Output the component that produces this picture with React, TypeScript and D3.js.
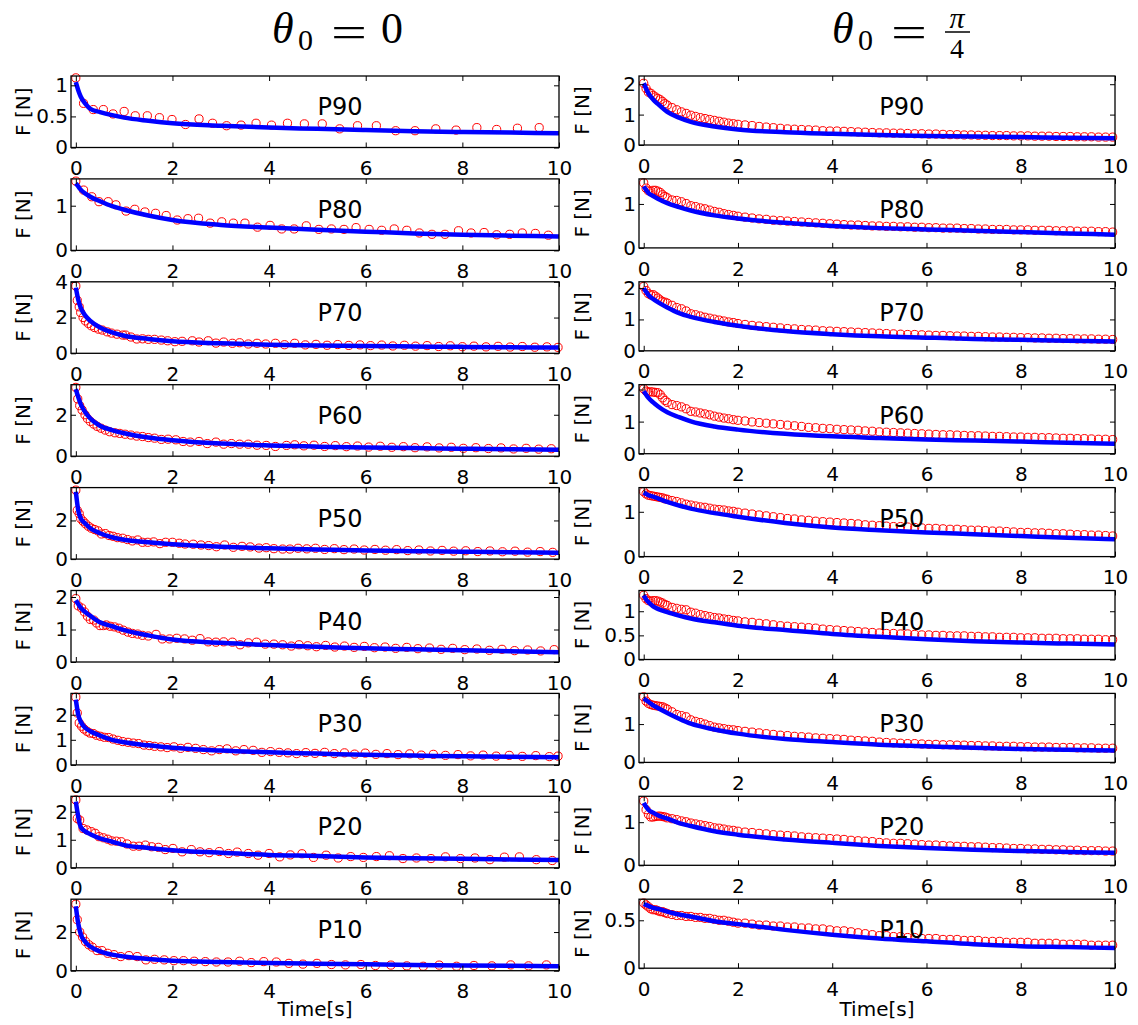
import React, { useEffect, useRef } from 'react';
import * as d3 from 'd3';

const xTicks = [0, 2, 4, 6, 8, 10];
const panelNames = ['P90', 'P80', 'P70', 'P60', 'P50', 'P40', 'P30', 'P20', 'P10'];

// y range and ticks of every panel, top to bottom
const yMaxL = [1.15, 1.6, 4, 3.45, 3.7, 2.2, 2.85, 2.55, 3.7];
const yTicksL = [[0, 0.5, 1], [0, 1], [0, 2, 4], [0, 2], [0, 2], [0, 1, 2], [0, 1, 2], [0, 1, 2], [0, 2]];
const yMaxR = [2.27, 1.57, 2.2, 2.15, 1.54, 1.43, 1.8, 1.6, 0.72];
const yTicksR = [[0, 1, 2], [0, 1], [0, 1, 2], [0, 1, 2], [0, 1], [0, 0.5, 1], [0, 1], [0, 1], [0, 0.5]];

// model curve (blue), sampled at these times
const tModel = [0, 0.05, 0.1, 0.2, 0.3, 0.5, 0.75, 1, 1.5, 2, 3, 4, 5, 6, 7, 8, 9, 10];

// theta0 = 0
const modelL90 = [1.05, 0.92, 0.82, 0.7, 0.62, 0.57, 0.52, 0.48, 0.43, 0.39, 0.35, 0.32, 0.3, 0.28, 0.26, 0.25, 0.24, 0.23];
const modelL80 = [1.5, 1.43, 1.36, 1.27, 1.2, 1.1, 0.99, 0.91, 0.78, 0.68, 0.57, 0.51, 0.46, 0.42, 0.38, 0.35, 0.33, 0.31];
const modelL70 = [3.67, 3.0, 2.56, 2.09, 1.81, 1.44, 1.17, 0.98, 0.8, 0.67, 0.56, 0.48, 0.44, 0.41, 0.38, 0.36, 0.34, 0.32];
const modelL60 = [3.24, 2.85, 2.52, 2.11, 1.82, 1.47, 1.26, 1.11, 0.9, 0.77, 0.61, 0.52, 0.46, 0.42, 0.39, 0.36, 0.33, 0.31];
const modelL50 = [3.48, 2.52, 2.12, 1.83, 1.6, 1.34, 1.13, 1.0, 0.87, 0.77, 0.64, 0.56, 0.5, 0.45, 0.41, 0.38, 0.35, 0.33];
const modelL40 = [1.9, 1.78, 1.67, 1.53, 1.42, 1.22, 1.1, 0.98, 0.82, 0.69, 0.59, 0.52, 0.47, 0.42, 0.39, 0.36, 0.33, 0.3];
const modelL30 = [2.6, 2.0, 1.73, 1.47, 1.34, 1.17, 1.0, 0.9, 0.78, 0.68, 0.57, 0.5, 0.45, 0.4, 0.37, 0.34, 0.32, 0.3];
const modelL20 = [2.36, 1.82, 1.46, 1.29, 1.2, 1.05, 0.93, 0.81, 0.71, 0.63, 0.54, 0.46, 0.42, 0.37, 0.34, 0.32, 0.3, 0.28];
const modelL10 = [3.34, 2.43, 1.91, 1.48, 1.25, 1.0, 0.83, 0.73, 0.61, 0.52, 0.45, 0.4, 0.36, 0.33, 0.3, 0.27, 0.25, 0.23];

// measurements (red circles) as [time, force]
const expL90 = [[0, 1.12], [0.16, 0.71], [0.36, 0.61], [0.57, 0.61], [0.77, 0.54], [1.0, 0.58], [1.23, 0.51], [1.48, 0.51], [1.73, 0.48], [1.99, 0.45], [2.27, 0.37], [2.55, 0.46], [2.83, 0.39], [3.12, 0.35], [3.42, 0.36], [3.73, 0.39], [4.05, 0.36], [4.38, 0.39], [4.73, 0.38], [5.1, 0.38], [5.46, 0.3], [5.83, 0.35], [6.22, 0.35], [6.62, 0.27], [7.02, 0.27], [7.45, 0.3], [7.87, 0.28], [8.3, 0.32], [8.71, 0.29], [9.14, 0.31], [9.59, 0.32]];
const expL80 = [[0, 1.55], [0.16, 1.35], [0.33, 1.2], [0.48, 1.09], [0.67, 1.09], [0.83, 1.02], [1.04, 0.88], [1.22, 0.92], [1.43, 0.86], [1.65, 0.83], [1.87, 0.78], [2.1, 0.68], [2.32, 0.71], [2.54, 0.72], [2.78, 0.61], [3.02, 0.64], [3.26, 0.61], [3.5, 0.61], [3.76, 0.52], [4.02, 0.56], [4.26, 0.48], [4.52, 0.48], [4.77, 0.55], [5.03, 0.47], [5.29, 0.48], [5.55, 0.47], [5.8, 0.51], [6.07, 0.47], [6.33, 0.45], [6.59, 0.48], [6.85, 0.45], [7.11, 0.39], [7.37, 0.36], [7.64, 0.36], [7.92, 0.44], [8.18, 0.39], [8.45, 0.4], [8.71, 0.35], [8.98, 0.36], [9.24, 0.39], [9.51, 0.38], [9.78, 0.34]];
const expL70 = [[0, 3.76], [0.03, 2.96], [0.07, 2.6], [0.1, 2.28], [0.15, 2.0], [0.2, 1.81], [0.26, 1.67], [0.32, 1.54], [0.39, 1.44], [0.47, 1.35], [0.55, 1.3], [0.65, 1.2], [0.74, 1.13], [0.85, 1.07], [0.97, 1.02], [1.03, 1.02], [1.14, 0.91], [1.26, 0.8], [1.38, 0.81], [1.5, 0.78], [1.63, 0.78], [1.77, 0.74], [1.9, 0.7], [2.05, 0.65], [2.2, 0.67], [2.41, 0.7], [2.55, 0.63], [2.74, 0.7], [2.9, 0.57], [3.06, 0.63], [3.24, 0.56], [3.39, 0.59], [3.57, 0.52], [3.75, 0.56], [3.93, 0.52], [4.13, 0.56], [4.32, 0.48], [4.53, 0.56], [4.75, 0.47], [4.97, 0.5], [5.2, 0.45], [5.42, 0.49], [5.65, 0.44], [5.88, 0.47], [6.1, 0.43], [6.33, 0.46], [6.56, 0.41], [6.8, 0.45], [7.03, 0.4], [7.27, 0.43], [7.51, 0.38], [7.75, 0.42], [8.0, 0.37], [8.24, 0.4], [8.49, 0.36], [8.74, 0.39], [8.99, 0.35], [9.24, 0.38], [9.5, 0.34], [9.75, 0.36], [9.98, 0.33]];
const expL60 = [[0, 3.32], [0.04, 2.76], [0.08, 2.44], [0.13, 2.23], [0.19, 2.0], [0.24, 1.82], [0.3, 1.68], [0.37, 1.55], [0.44, 1.44], [0.52, 1.35], [0.61, 1.26], [0.7, 1.18], [0.81, 1.13], [0.91, 1.1], [1.02, 1.06], [1.14, 1.02], [1.26, 0.97], [1.38, 0.95], [1.5, 0.9], [1.63, 0.87], [1.77, 0.81], [1.91, 0.82], [2.07, 0.79], [2.22, 0.71], [2.37, 0.68], [2.55, 0.71], [2.72, 0.61], [2.9, 0.68], [3.06, 0.58], [3.22, 0.61], [3.39, 0.58], [3.57, 0.58], [3.75, 0.53], [3.94, 0.52], [4.13, 0.47], [4.36, 0.52], [4.53, 0.55], [4.72, 0.5], [4.93, 0.53], [5.15, 0.47], [5.37, 0.51], [5.6, 0.46], [5.83, 0.49], [6.06, 0.44], [6.3, 0.48], [6.54, 0.43], [6.78, 0.46], [7.02, 0.41], [7.27, 0.45], [7.52, 0.4], [7.77, 0.43], [8.02, 0.38], [8.28, 0.41], [8.54, 0.37], [8.8, 0.4], [9.06, 0.35], [9.32, 0.38], [9.58, 0.34], [9.84, 0.36]];
const expL50 = [[0, 3.57], [0.03, 2.52], [0.07, 2.35], [0.1, 2.1], [0.15, 1.96], [0.2, 1.83], [0.26, 1.7], [0.32, 1.6], [0.39, 1.53], [0.46, 1.46], [0.53, 1.3], [0.61, 1.32], [0.69, 1.22], [0.77, 1.18], [0.86, 1.11], [0.97, 1.08], [1.07, 1.01], [1.17, 0.94], [1.28, 0.99], [1.38, 0.87], [1.49, 0.87], [1.61, 0.89], [1.74, 0.8], [1.86, 0.87], [2.0, 0.87], [2.14, 0.82], [2.26, 0.78], [2.43, 0.77], [2.59, 0.73], [2.75, 0.7], [2.91, 0.64], [3.08, 0.73], [3.26, 0.61], [3.44, 0.66], [3.61, 0.63], [3.79, 0.57], [3.94, 0.59], [4.1, 0.54], [4.28, 0.52], [4.43, 0.52], [4.6, 0.56], [4.78, 0.53], [4.96, 0.56], [5.15, 0.5], [5.35, 0.54], [5.55, 0.49], [5.76, 0.52], [5.97, 0.47], [6.19, 0.5], [6.41, 0.46], [6.64, 0.49], [6.87, 0.44], [7.1, 0.47], [7.34, 0.42], [7.58, 0.45], [7.82, 0.41], [8.07, 0.43], [8.32, 0.39], [8.57, 0.42], [8.83, 0.38], [9.09, 0.41], [9.35, 0.36], [9.61, 0.39], [9.87, 0.35]];
const expL40 = [[0, 1.95], [0.05, 1.73], [0.12, 1.66], [0.18, 1.54], [0.24, 1.41], [0.3, 1.31], [0.37, 1.29], [0.43, 1.2], [0.5, 1.12], [0.57, 1.12], [0.63, 1.14], [0.71, 1.1], [0.8, 1.08], [0.89, 1.04], [0.98, 0.98], [1.08, 0.92], [1.17, 0.88], [1.28, 0.86], [1.38, 0.82], [1.5, 0.8], [1.66, 0.85], [1.79, 0.71], [1.94, 0.71], [2.09, 0.73], [2.25, 0.71], [2.41, 0.67], [2.57, 0.72], [2.74, 0.62], [2.9, 0.61], [3.06, 0.62], [3.24, 0.61], [3.4, 0.53], [3.57, 0.59], [3.74, 0.61], [3.92, 0.55], [4.1, 0.55], [4.28, 0.53], [4.46, 0.49], [4.62, 0.53], [4.8, 0.5], [4.98, 0.47], [5.17, 0.51], [5.36, 0.46], [5.56, 0.49], [5.76, 0.45], [5.97, 0.48], [6.18, 0.44], [6.4, 0.46], [6.62, 0.42], [6.85, 0.45], [7.08, 0.41], [7.32, 0.43], [7.56, 0.39], [7.8, 0.42], [8.05, 0.38], [8.3, 0.4], [8.56, 0.36], [8.82, 0.39], [9.08, 0.35], [9.35, 0.37], [9.62, 0.34], [9.9, 0.38]];
const expL30 = [[0, 2.7], [0.03, 2.07], [0.07, 1.67], [0.12, 1.54], [0.17, 1.43], [0.23, 1.34], [0.29, 1.27], [0.36, 1.25], [0.43, 1.18], [0.51, 1.14], [0.59, 1.1], [0.68, 1.09], [0.77, 1.03], [0.87, 0.98], [0.97, 0.93], [1.08, 0.9], [1.19, 0.87], [1.3, 0.85], [1.41, 0.79], [1.52, 0.77], [1.63, 0.74], [1.76, 0.72], [1.89, 0.69], [2.03, 0.72], [2.17, 0.66], [2.32, 0.7], [2.48, 0.66], [2.64, 0.61], [2.81, 0.56], [2.97, 0.61], [3.13, 0.64], [3.31, 0.56], [3.48, 0.61], [3.67, 0.58], [3.85, 0.5], [4.03, 0.53], [4.21, 0.5], [4.39, 0.48], [4.57, 0.45], [4.76, 0.49], [4.95, 0.46], [5.15, 0.5], [5.35, 0.45], [5.56, 0.48], [5.77, 0.43], [5.99, 0.47], [6.21, 0.42], [6.44, 0.45], [6.67, 0.41], [6.91, 0.44], [7.15, 0.39], [7.4, 0.42], [7.65, 0.38], [7.91, 0.41], [8.17, 0.36], [8.43, 0.39], [8.7, 0.35], [8.97, 0.38], [9.24, 0.34], [9.52, 0.37], [9.8, 0.33], [9.98, 0.35]];
const expL20 = [[0, 2.42], [0.03, 1.76], [0.08, 1.7], [0.15, 1.4], [0.23, 1.35], [0.32, 1.29], [0.4, 1.23], [0.48, 1.11], [0.57, 1.07], [0.66, 1.02], [0.74, 0.96], [0.84, 0.95], [0.94, 0.93], [1.06, 0.85], [1.19, 0.77], [1.31, 0.77], [1.44, 0.81], [1.57, 0.75], [1.71, 0.73], [1.85, 0.65], [2.01, 0.69], [2.2, 0.57], [2.39, 0.65], [2.57, 0.57], [2.76, 0.54], [2.97, 0.58], [3.16, 0.51], [3.34, 0.56], [3.57, 0.51], [3.77, 0.45], [4.0, 0.51], [4.22, 0.39], [4.44, 0.46], [4.68, 0.5], [4.92, 0.37], [5.18, 0.45], [5.43, 0.35], [5.69, 0.4], [5.95, 0.37], [6.22, 0.4], [6.49, 0.43], [6.77, 0.33], [7.05, 0.35], [7.35, 0.33], [7.65, 0.39], [7.96, 0.33], [8.26, 0.35], [8.57, 0.29], [8.87, 0.38], [9.18, 0.39], [9.53, 0.29], [9.86, 0.26]];
const expL10 = [[0, 3.44], [0.03, 2.64], [0.08, 2.0], [0.14, 1.74], [0.2, 1.51], [0.27, 1.34], [0.34, 1.22], [0.44, 1.04], [0.54, 1.04], [0.66, 0.9], [0.79, 0.83], [0.93, 0.73], [1.1, 0.78], [1.27, 0.73], [1.45, 0.56], [1.63, 0.59], [1.83, 0.56], [2.03, 0.52], [2.23, 0.52], [2.45, 0.49], [2.68, 0.47], [2.91, 0.45], [3.15, 0.45], [3.39, 0.49], [3.63, 0.42], [3.89, 0.47], [4.15, 0.45], [4.41, 0.38], [4.7, 0.34], [4.99, 0.38], [5.29, 0.32], [5.58, 0.3], [5.9, 0.32], [6.2, 0.27], [6.52, 0.29], [6.85, 0.25], [7.19, 0.23], [7.52, 0.29], [7.88, 0.23], [8.24, 0.27], [8.61, 0.25], [9.0, 0.3], [9.37, 0.25], [9.74, 0.3]];

// theta0 = pi/4
const modelR90 = [2.03, 1.86, 1.7, 1.5, 1.35, 1.09, 0.9, 0.76, 0.61, 0.51, 0.42, 0.37, 0.33, 0.3, 0.28, 0.26, 0.24, 0.22];
const modelR80 = [1.4, 1.32, 1.25, 1.18, 1.12, 1.02, 0.93, 0.85, 0.74, 0.67, 0.57, 0.5, 0.45, 0.42, 0.39, 0.36, 0.33, 0.3];
const modelR70 = [2.0, 1.88, 1.78, 1.65, 1.55, 1.38, 1.2, 1.08, 0.92, 0.8, 0.63, 0.53, 0.46, 0.42, 0.38, 0.35, 0.32, 0.3];
const modelR60 = [1.95, 1.84, 1.74, 1.6, 1.48, 1.29, 1.14, 1.01, 0.85, 0.75, 0.62, 0.54, 0.49, 0.44, 0.41, 0.38, 0.34, 0.31];
const modelR50 = [1.43, 1.4, 1.37, 1.34, 1.3, 1.22, 1.14, 1.07, 0.97, 0.89, 0.75, 0.65, 0.59, 0.54, 0.5, 0.46, 0.42, 0.39];
const modelR40 = [1.33, 1.25, 1.19, 1.1, 1.05, 0.98, 0.91, 0.85, 0.77, 0.7, 0.61, 0.53, 0.47, 0.42, 0.38, 0.35, 0.33, 0.31];
const modelR30 = [1.67, 1.62, 1.58, 1.49, 1.42, 1.29, 1.14, 1.01, 0.86, 0.75, 0.61, 0.53, 0.46, 0.42, 0.38, 0.35, 0.33, 0.31];
const modelR20 = [1.45, 1.36, 1.29, 1.22, 1.16, 1.08, 0.98, 0.91, 0.79, 0.71, 0.6, 0.52, 0.45, 0.4, 0.36, 0.33, 0.31, 0.29];
const modelR10 = [0.67, 0.66, 0.65, 0.63, 0.62, 0.59, 0.56, 0.54, 0.49, 0.46, 0.4, 0.35, 0.31, 0.28, 0.25, 0.23, 0.22, 0.21];

// measurement times for the right column
const tRight = [
  0, 0.05, 0.1, 0.15, 0.2, 0.25, 0.3, 0.35, 0.4, 0.45, 0.5,
  0.6, 0.7, 0.8, 0.9, 1.0, 1.1, 1.2, 1.3, 1.4, 1.5, 1.6, 1.7, 1.8, 1.9, 2.0,
  2.15, 2.3, 2.45, 2.6, 2.75, 2.9, 3.05, 3.2, 3.35, 3.5, 3.65, 3.8, 3.95, 4.1, 4.25, 4.4, 4.55, 4.7, 4.85, 5.0,
  5.15, 5.3, 5.45, 5.6, 5.75, 5.9, 6.05, 6.2, 6.35, 6.5, 6.65, 6.8, 6.95, 7.1, 7.25, 7.4, 7.55, 7.7, 7.85, 8.0,
  8.15, 8.3, 8.45, 8.6, 8.75, 8.9, 9.05, 9.2, 9.35, 9.5, 9.65, 9.8, 9.95,
];
const expR90 = [
  2.03, 1.86, 1.74, 1.70, 1.63, 1.58, 1.53, 1.49, 1.43, 1.36, 1.31,
  1.23, 1.16, 1.09, 1.04, 0.98, 0.94, 0.90, 0.87, 0.84, 0.81, 0.78, 0.75, 0.72, 0.70, 0.68,
  0.66, 0.64, 0.61, 0.59, 0.57, 0.55, 0.53, 0.52, 0.51, 0.50, 0.49, 0.47, 0.46, 0.46, 0.45, 0.44, 0.43, 0.42, 0.41, 0.40,
  0.40, 0.39, 0.39, 0.38, 0.37, 0.37, 0.36, 0.36, 0.35, 0.34, 0.34, 0.33, 0.33, 0.32, 0.32, 0.31, 0.31, 0.31, 0.30, 0.30,
  0.30, 0.29, 0.29, 0.29, 0.28, 0.28, 0.28, 0.27, 0.27, 0.27, 0.26, 0.26, 0.26,
];
const expR80 = [
  1.48, 1.36, 1.30, 1.29, 1.31, 1.31, 1.29, 1.26, 1.21, 1.17, 1.14,
  1.09, 1.08, 1.05, 1.01, 0.96, 0.94, 0.91, 0.89, 0.86, 0.83, 0.81, 0.78, 0.76, 0.74, 0.72,
  0.70, 0.68, 0.66, 0.65, 0.63, 0.62, 0.61, 0.60, 0.59, 0.58, 0.57, 0.56, 0.55, 0.54, 0.53, 0.52, 0.52, 0.51, 0.50, 0.50,
  0.49, 0.49, 0.48, 0.48, 0.47, 0.47, 0.46, 0.46, 0.45, 0.45, 0.45, 0.44, 0.44, 0.43, 0.43, 0.42, 0.42, 0.42, 0.41, 0.41,
  0.41, 0.40, 0.40, 0.40, 0.39, 0.39, 0.39, 0.38, 0.38, 0.38, 0.37, 0.37, 0.36,
];
const expR70 = [
  2.05, 1.92, 1.82, 1.78, 1.79, 1.74, 1.68, 1.62, 1.57, 1.55, 1.52,
  1.45, 1.38, 1.34, 1.27, 1.18, 1.15, 1.11, 1.07, 1.04, 1.01, 0.98, 0.95, 0.92, 0.90, 0.87,
  0.84, 0.81, 0.79, 0.77, 0.75, 0.73, 0.71, 0.70, 0.68, 0.67, 0.66, 0.64, 0.63, 0.62, 0.61, 0.60, 0.59, 0.58, 0.57, 0.56,
  0.55, 0.54, 0.53, 0.52, 0.52, 0.51, 0.50, 0.49, 0.49, 0.48, 0.47, 0.47, 0.46, 0.46, 0.45, 0.44, 0.44, 0.43, 0.43, 0.42,
  0.42, 0.41, 0.41, 0.40, 0.40, 0.39, 0.39, 0.38, 0.38, 0.38, 0.37, 0.37, 0.36,
];
const expR60 = [
  2.02, 1.95, 1.92, 1.93, 1.92, 1.91, 1.90, 1.84, 1.74, 1.66, 1.60,
  1.53, 1.50, 1.46, 1.40, 1.32, 1.30, 1.27, 1.24, 1.21, 1.17, 1.14, 1.11, 1.09, 1.06, 1.04,
  1.02, 0.99, 0.97, 0.95, 0.93, 0.91, 0.89, 0.87, 0.85, 0.82, 0.81, 0.79, 0.78, 0.76, 0.75, 0.74, 0.73, 0.71, 0.70, 0.68,
  0.67, 0.66, 0.65, 0.64, 0.63, 0.62, 0.61, 0.60, 0.59, 0.59, 0.58, 0.57, 0.56, 0.56, 0.55, 0.54, 0.54, 0.53, 0.52, 0.52,
  0.51, 0.51, 0.50, 0.50, 0.49, 0.48, 0.48, 0.47, 0.47, 0.46, 0.45, 0.45, 0.44,
];
const expR50 = [
  1.45, 1.40, 1.37, 1.36, 1.35, 1.34, 1.33, 1.32, 1.31, 1.29, 1.28,
  1.25, 1.23, 1.20, 1.17, 1.15, 1.13, 1.11, 1.10, 1.08, 1.06, 1.05, 1.04, 1.02, 1.01, 0.99,
  0.97, 0.95, 0.93, 0.91, 0.89, 0.87, 0.85, 0.84, 0.82, 0.81, 0.79, 0.78, 0.77, 0.76, 0.75, 0.74, 0.73, 0.71, 0.70, 0.69,
  0.68, 0.67, 0.67, 0.66, 0.65, 0.64, 0.63, 0.63, 0.62, 0.61, 0.61, 0.60, 0.59, 0.59, 0.58, 0.57, 0.57, 0.56, 0.55, 0.54,
  0.54, 0.53, 0.53, 0.52, 0.51, 0.51, 0.50, 0.49, 0.49, 0.48, 0.48, 0.47, 0.46,
];
const expR40 = [
  1.33, 1.26, 1.22, 1.21, 1.22, 1.22, 1.21, 1.19, 1.17, 1.14, 1.12,
  1.08, 1.06, 1.04, 1.03, 0.98, 0.96, 0.93, 0.91, 0.89, 0.87, 0.86, 0.84, 0.83, 0.81, 0.80,
  0.78, 0.77, 0.75, 0.74, 0.72, 0.70, 0.69, 0.68, 0.67, 0.66, 0.65, 0.63, 0.62, 0.61, 0.60, 0.59, 0.58, 0.57, 0.56, 0.55,
  0.54, 0.54, 0.53, 0.53, 0.52, 0.51, 0.51, 0.50, 0.50, 0.49, 0.49, 0.49, 0.48, 0.48, 0.47, 0.47, 0.46, 0.46, 0.46, 0.45,
  0.45, 0.45, 0.44, 0.44, 0.44, 0.43, 0.43, 0.43, 0.42, 0.42, 0.42, 0.41, 0.41,
];
const expR30 = [
  1.71, 1.60, 1.54, 1.51, 1.49, 1.48, 1.47, 1.46, 1.45, 1.42, 1.39,
  1.32, 1.25, 1.22, 1.19, 1.11, 1.07, 1.04, 1.00, 0.96, 0.92, 0.90, 0.88, 0.86, 0.85, 0.83,
  0.81, 0.79, 0.77, 0.75, 0.73, 0.71, 0.70, 0.68, 0.67, 0.66, 0.64, 0.63, 0.62, 0.61, 0.60, 0.58, 0.57, 0.56, 0.55, 0.53,
  0.52, 0.51, 0.50, 0.49, 0.49, 0.48, 0.47, 0.47, 0.46, 0.46, 0.45, 0.45, 0.44, 0.44, 0.43, 0.43, 0.42, 0.42, 0.42, 0.41,
  0.41, 0.40, 0.40, 0.40, 0.39, 0.39, 0.39, 0.38, 0.38, 0.38, 0.37, 0.37, 0.37,
];
const expR20 = [
  1.49, 1.29, 1.18, 1.12, 1.12, 1.13, 1.14, 1.14, 1.13, 1.12, 1.10,
  1.08, 1.06, 1.03, 1.01, 0.98, 0.96, 0.94, 0.92, 0.90, 0.87, 0.86, 0.84, 0.82, 0.81, 0.79,
  0.77, 0.76, 0.74, 0.73, 0.71, 0.70, 0.69, 0.68, 0.66, 0.65, 0.64, 0.63, 0.62, 0.61, 0.60, 0.58, 0.57, 0.56, 0.55, 0.53,
  0.52, 0.51, 0.51, 0.50, 0.49, 0.48, 0.47, 0.47, 0.46, 0.45, 0.44, 0.44, 0.43, 0.43, 0.42, 0.41, 0.41, 0.40, 0.39, 0.39,
  0.38, 0.38, 0.37, 0.37, 0.36, 0.36, 0.35, 0.35, 0.34, 0.34, 0.34, 0.33, 0.33,
];
const expR10 = [
  0.68, 0.66, 0.64, 0.62, 0.61, 0.61, 0.60, 0.59, 0.59, 0.58, 0.57,
  0.56, 0.55, 0.55, 0.54, 0.54, 0.53, 0.53, 0.52, 0.52, 0.51, 0.50, 0.50, 0.49, 0.48, 0.47,
  0.47, 0.46, 0.45, 0.45, 0.44, 0.44, 0.43, 0.43, 0.42, 0.42, 0.41, 0.41, 0.40, 0.39, 0.39, 0.38, 0.37, 0.36, 0.35, 0.34,
  0.34, 0.33, 0.33, 0.32, 0.32, 0.31, 0.31, 0.31, 0.30, 0.30, 0.30, 0.29, 0.29, 0.29, 0.28, 0.28, 0.28, 0.27, 0.27, 0.27,
  0.27, 0.26, 0.26, 0.26, 0.26, 0.25, 0.25, 0.25, 0.25, 0.24, 0.24, 0.24, 0.24,
];

const SANS = "'DejaVu Sans', Verdana, sans-serif";
const SERIF = "'Liberation Serif', 'Times New Roman', serif";

const columns = [
  {
    left: 71, right: 559, h: 71.5, yLabelX: 22.5,
    yMax: yMaxL, yTicks: yTicksL,
    models: [modelL90, modelL80, modelL70, modelL60, modelL50, modelL40, modelL30, modelL20, modelL10],
    exps: [expL90, expL80, expL70, expL60, expL50, expL40, expL30, expL20, expL10],
  },
  {
    left: 639, right: 1115, h: 69, yLabelX: 582,
    yMax: yMaxR, yTicks: yTicksR,
    models: [modelR90, modelR80, modelR70, modelR60, modelR50, modelR40, modelR30, modelR20, modelR10],
    exps: [expR90, expR80, expR70, expR60, expR50, expR40, expR30, expR20, expR10]
      .map(vals => vals.map((v, k) => [tRight[k], v])),
  },
];

export default function App() {
  const ref = useRef<SVGSVGElement>(null);

  useEffect(() => {
    const svg = d3.select(ref.current);
    svg.selectAll('*').remove();

    const tidy = (sel: any) => {
      sel.attr('font-family', SANS).attr('font-size', 20);
      sel.select('.domain').remove();
    };

    columns.forEach(col => {
      const x = d3.scaleLinear().domain([-0.1, 10]).range([col.left, col.right]);

      panelNames.forEach((name, i) => {
        const top = 76 + i * 102.9;
        const bottom = top + col.h;
        const y = d3.scaleLinear().domain([0, col.yMax[i]]).range([bottom, top]);
        const g = svg.append('g');

        g.append('g')
          .selectAll('circle')
          .data(col.exps[i].filter(d => d[0] != null && d[1] != null))
          .join('circle')
          .attr('cx', d => x(d[0]))
          .attr('cy', d => y(d[1]))
          .attr('r', 4.1)
          .attr('fill', 'none')
          .attr('stroke', '#ff0000')
          .attr('stroke-width', 1);

        const line = d3.line<number[]>()
          .x(d => x(d[0]))
          .y(d => y(d[1]))
          .curve(d3.curveMonotoneX);
        g.append('path')
          .datum(tModel.map((t, k) => [t, col.models[i][k]]))
          .attr('d', line)
          .attr('fill', 'none')
          .attr('stroke', '#0000ff')
          .attr('stroke-width', 4.5)
          .attr('stroke-linejoin', 'round');

        g.append('text')
          .attr('x', x(5))
          .attr('y', top + 39)
          .attr('font-family', SANS)
          .attr('font-size', 24)
          .text(name);

        g.append('g')
          .attr('transform', `translate(0,${bottom})`)
          .call(d3.axisBottom(x).tickValues(xTicks).tickSize(-5).tickPadding(13.5).tickFormat(d => String(d)))
          .call(tidy);
        g.append('g')
          .attr('transform', `translate(0,${top})`)
          .call(d3.axisTop(x).tickValues(xTicks).tickSize(-5).tickFormat(() => ''))
          .call(tidy);
        g.append('g')
          .attr('transform', `translate(${col.left},0)`)
          .call(d3.axisLeft(y).tickValues(col.yTicks[i]).tickSize(-5).tickPadding(3).tickFormat(d => String(d)))
          .call(tidy);
        g.append('g')
          .attr('transform', `translate(${col.right},0)`)
          .call(d3.axisRight(y).tickValues(col.yTicks[i]).tickSize(-5).tickFormat(() => ''))
          .call(tidy);

        g.append('rect')
          .attr('x', col.left)
          .attr('y', top)
          .attr('width', col.right - col.left)
          .attr('height', col.h)
          .attr('fill', 'none')
          .attr('stroke', '#000')
          .attr('stroke-width', 1.3);

        g.append('text')
          .attr('transform', `translate(${col.yLabelX},${top + col.h / 2}) rotate(-90)`)
          .attr('text-anchor', 'middle')
          .attr('dominant-baseline', 'central')
          .attr('font-family', SANS)
          .attr('font-size', 20)
          .text('F [N]');
      });

      svg.append('text')
        .attr('x', (col.left + col.right) / 2)
        .attr('y', 1016)
        .attr('text-anchor', 'middle')
        .attr('font-family', SANS)
        .attr('font-size', 20)
        .text('Time[s]');
    });

    // column titles
    const title = (bx: number) => {
      const t = svg.append('g').attr('font-family', SERIF).attr('fill', '#000');
      t.append('text').attr('x', bx).attr('y', 43).attr('font-size', 44).attr('font-style', 'italic').text('θ');
      t.append('text').attr('x', bx + 26).attr('y', 50).attr('font-size', 30).text('0');
      t.append('text')
        .attr('transform', `translate(${bx + 77},47) scale(1.45,1)`)
        .attr('font-size', 44)
        .attr('text-anchor', 'middle')
        .text('=');
      return t;
    };
    const tl = title(272);
    tl.append('text').attr('x', 381).attr('y', 43).attr('font-size', 44).text('0');
    const tr = title(832);
    tr.append('text').attr('x', 957).attr('y', 28).attr('font-size', 30).attr('font-style', 'italic').attr('text-anchor', 'middle').text('π');
    tr.append('line').attr('x1', 945).attr('x2', 970).attr('y1', 32).attr('y2', 32).attr('stroke', '#000').attr('stroke-width', 1.5);
    tr.append('text').attr('x', 957).attr('y', 58).attr('font-size', 28).attr('text-anchor', 'middle').text('4');
  }, []);

  return (
    <svg
      ref={ref}
      width={1138}
      height={1025}
      style={{ position: 'absolute', left: 0, top: 0, background: '#fff' }}
    />
  );
}
